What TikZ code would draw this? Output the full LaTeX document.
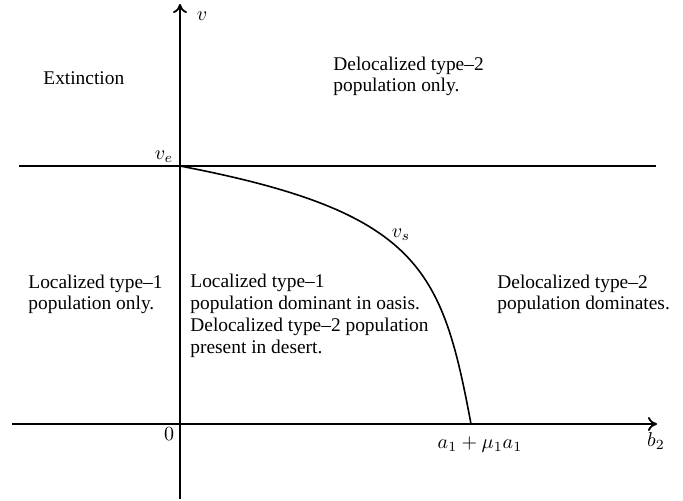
\documentclass[tikz,border=0pt]{standalone}
\usepackage{fontspec}
\setmainfont{Liberation Serif}
\usepackage{tikz}
\usetikzlibrary{arrows.meta, positioning}

\begin{document}
\begin{tikzpicture}[
    x=0.5pt, y=-0.5pt,
    axis/.style={line width=0.9pt, -{To[length=4.5pt, width=7pt]}},
    boundary/.style={line width=0.9pt},
    region/.style={align=left, anchor=base west, inner sep=0pt, font=\fontsize{9.7}{10.85}\selectfont},
    axlabel/.style={inner sep=0pt, font=\fontsize{9.9}{10.85}\selectfont}
]
\useasboundingbox (0,0) rectangle (683,501);

\coordinate (xstart) at (12,424);
\coordinate (xend) at (657,424);
\coordinate (ystart) at (180,499);
\coordinate (yend) at (180,4);
\coordinate (vestart) at (19,166);
\coordinate (veend) at (656,166);
\coordinate (ve) at (180,166);
\coordinate (a1) at (471,424);

\draw[axis] (xstart) -- (xend);
\draw[axis] (ystart) -- (yend);
\draw[boundary] (vestart) -- (veend);
\draw[boundary, line width=0.8pt] (ve) .. controls (420,212) and (442,269) .. (a1);

\node[axlabel] (vlab) at (202,16) {$v$};
\node[axlabel] (velab) at (164,157) {$v_e$};
\node[axlabel] (vslab) at (401,235) {$v_s$};
\node[axlabel] (zerolab) at (169,434) {$0$};
\node[axlabel] (a1lab) at (480,445) {$a_1 + \mu_1 a_1$};
\node[axlabel] (b2lab) at (656,441) {$b_2$};

% multi-line texts sit on the baseline of their last line
\node[region] (extinct) at (43,85) {Extinction};
\node[region] (deloconly) at (333,92) {Delocalized type--2\\population only.};
\node[region] (loconly) at (28,310) {Localized type--1\\population only.};
\node[region] (coexist) at (190,353) {Localized type--1\\population dominant in oasis.\\Delocalized type--2 population\\present in desert.};
\node[region] (delocdom) at (497,310) {Delocalized type--2\\population dominates.};
\end{tikzpicture}
\end{document}
